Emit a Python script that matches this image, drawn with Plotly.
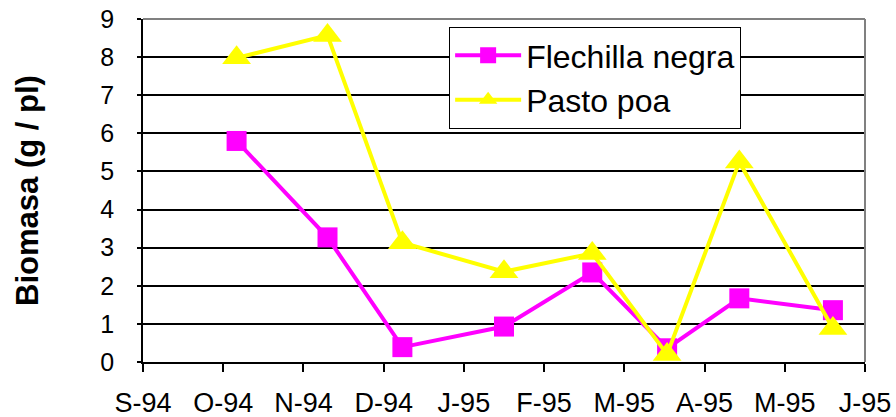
import datetime as dt
import plotly.graph_objects as go

# Sampling dates and biomass per plant (g / pl)
fechas = ["1994-10-10", "1994-11-13", "1994-12-11", "1995-01-18",
          "1995-02-20", "1995-03-20", "1995-04-16", "1995-05-21"]
flechilla_negra = [5.80, 3.27, 0.39, 0.93, 2.35, 0.36, 1.67, 1.36]
pasto_poa = [7.98, 8.57, 3.13, 2.37, 2.85, 0.20, 5.25, 0.88]

# Axis ticks: one every 30 days from the axis origin
inicio_eje = dt.date(1994, 9, 5)
etiquetas_x = ["S-94", "O-94", "N-94", "D-94", "J-95",
               "F-95", "M-95", "A-95", "M-95", "J-95"]
ticks_x = [(inicio_eje + dt.timedelta(days=30 * k)).isoformat()
           for k in range(len(etiquetas_x))]

FONT = "Arial, Liberation Sans, sans-serif"

fig = go.Figure()
fig.add_trace(go.Scatter(
    x=fechas, y=flechilla_negra, name="Flechilla negra",
    mode="lines+markers",
    line=dict(color="#FF00FF", width=4),
    marker=dict(symbol="square", size=20, color="#FF00FF", line=dict(width=0)),
))
fig.add_trace(go.Scatter(
    x=fechas, y=pasto_poa, name="Pasto poa",
    mode="lines+markers",
    line=dict(color="#FFFF00", width=4),
    marker=dict(symbol="triangle-up", size=25, color="#FFFF00", line=dict(width=0)),
))

fig.update_layout(
    width=896, height=417,
    margin=dict(l=143, r=31, t=19, b=55, autoexpand=False),
    paper_bgcolor="white", plot_bgcolor="white",
    font=dict(family=FONT, color="black"),
    showlegend=True,
    legend=dict(
        x=0.424, y=0.977, xanchor="left", yanchor="top",
        bgcolor="white", bordercolor="black", borderwidth=1,
        font=dict(size=32, family=FONT, color="black"),
        tracegroupgap=0, itemwidth=66,
    ),
    xaxis=dict(
        type="date", automargin=False,
        range=[ticks_x[0], ticks_x[-1]],
        tickmode="array", tickvals=ticks_x, ticktext=etiquetas_x,
        showgrid=False, zeroline=False,
        showline=True, linecolor="black", linewidth=1.5,
        ticks="outside", ticklen=8, tickwidth=1.5, tickcolor="black",
        tickfont=dict(size=27, family=FONT, color="black"),
        ticklabelstandoff=8,
    ),
    yaxis=dict(
        automargin=False,
        range=[0, 9], dtick=1, tick0=0,
        showgrid=True, gridcolor="black", gridwidth=1.5,
        zeroline=False,
        showline=True, linecolor="black", linewidth=1.5,
        ticks="outside", ticklen=4, tickwidth=1.5, tickcolor="black",
        tickfont=dict(size=25, family=FONT, color="black"),
        ticklabelstandoff=18,
        title=dict(text="<b>Biomasa (g / pl)</b>",
                   font=dict(size=31, family=FONT, color="black"),
                   standoff=52),
    ),
    shapes=[
        dict(type="line", xref="paper", yref="paper", x0=0, x1=1, y0=1, y1=1,
             line=dict(color="#808080", width=2), layer="above"),
        dict(type="line", xref="paper", yref="paper", x0=1, x1=1, y0=0, y1=1,
             line=dict(color="#808080", width=2), layer="above"),
    ],
)

fig.write_html("out.html")
